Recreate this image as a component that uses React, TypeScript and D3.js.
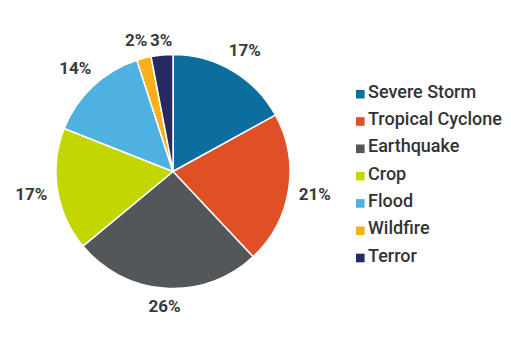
import React from "react";
import * as d3 from "d3";

const categories = ["Severe Storm", "Tropical Cyclone", "Earthquake", "Crop", "Flood", "Wildfire", "Terror"];
const values = [17, 21, 26, 17, 14, 2, 3];
const colors = ["#0b6e9f", "#e05026", "#53575a", "#c4d600", "#4fb1e0", "#fbb01b", "#262a62"];

const W = 511, H = 356;
const cx = 173, cy = 171.5, R = 117;

export default function App() {
  const pie = d3.pie<number>().sort(null).value(d => d)(values);
  const arc = d3.arc<d3.PieArcDatum<number>>().innerRadius(0).outerRadius(R);
  const lx = 356, ly0 = 94.2, lstep = 27.3;
  const gap = 127, hh = 6.7, sep = 3;

  const labels = pie.map((p, i) => {
    const txt = `${values[i]}%`;
    const w = txt.length === 2 ? 22 : 31.5;
    const hw = w / 2;
    const a = (p.startAngle + p.endAngle) / 2;
    const s = Math.sin(a), c = Math.cos(a);
    const r = gap + hw * Math.abs(s) + hh * Math.abs(c);
    return { txt, x: r * s, y: -r * c, hw };
  });
  // simple collision resolution between neighbouring labels
  for (let i = 0; i < labels.length - 1; i++) {
    const A = labels[i], B = labels[i + 1];
    const overlapX = A.hw + B.hw + sep - Math.abs(B.x - A.x);
    const overlapY = 2 * hh + 2 - Math.abs(B.y - A.y);
    if (overlapX > 0 && overlapY > 0) {
      const my = (A.y + B.y) / 2 + 1.5;
      const first = A.x < B.x ? A : B;
      const second = A.x < B.x ? B : A;
      const mid = (first.x + second.x) / 2 - 1;
      const total = first.hw * 2 + second.hw * 2 + sep;
      const left = mid - total / 2;
      first.x = left + first.hw;
      second.x = left + first.hw * 2 + sep + second.hw;
      A.y = my; B.y = my;
    }
  }

  return (
    <svg width={W} height={H} style={{ position: "absolute", left: 0, top: 0, fontFamily: "Roboto, sans-serif" }}>
      <rect width={W} height={H} fill="#fff" />
      <g transform={`translate(${cx},${cy})`}>
        {pie.map((p, i) => (
          <path key={i} d={arc(p) || ""} fill={colors[i]} stroke="#fff" strokeWidth={1.5} strokeLinejoin="round" />
        ))}
        {labels.map((l, i) => (
          <text key={i} x={l.x} y={l.y} dy="0.36em" textAnchor="middle" fontSize={17} fontWeight={700} fill="#3a3a3a">
            {l.txt}
          </text>
        ))}
      </g>
      <g>
        {categories.map((name, i) => (
          <g key={name} transform={`translate(${lx},${ly0 + i * lstep})`}>
            <rect x={0} y={-4.3} width={8.6} height={8.6} fill={colors[i]} />
            <text x={12} y={3.6} fontSize={18} fontWeight={500} fill="#333">{name}</text>
          </g>
        ))}
      </g>
    </svg>
  );
}
